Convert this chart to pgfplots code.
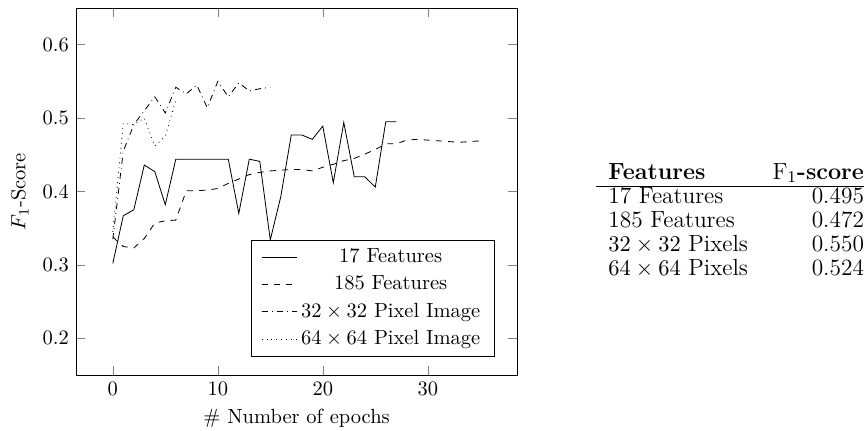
\documentclass[border=0pt]{standalone}
\usepackage{pgfplots}
\pgfplotsset{compat=1.18}
\begin{document}
\begin{tikzpicture}
\path[use as bounding box] (-37.1pt,-27.3pt) rectangle (386.3pt,182.9pt);
\begin{axis}[
  at={(0pt,0pt)}, anchor=south west,
  scale only axis,
  width=215.1pt, height=179pt,
  xmin=-3.5, xmax=38.5,
  ymin=0.15, ymax=0.65,
  xtick={0,10,20,30},
  ytick={0.2,0.3,0.4,0.5,0.6},
  xlabel={\# Number of epochs},
  ylabel={$F_1$-Score},
  legend style={at={(0.95,0.05)}, anchor=south east, inner xsep=5pt, row sep=1pt},
  legend cell align=center,
]
\addplot[black, solid] coordinates {
(0,0.302) (1,0.367) (2,0.375) (3,0.436) (4,0.427) (5,0.382) (6,0.444) (7,0.444)
(8,0.444) (9,0.444) (10,0.444) (11,0.444) (12,0.370) (13,0.444) (14,0.441) (15,0.334)
(16,0.393) (17,0.477) (18,0.477) (19,0.471) (20,0.489) (21,0.412) (22,0.494) (23,0.420)
(24,0.420) (25,0.406) (26,0.495) (27,0.495)};
\addlegendentry{17 Features}
\addplot[black, dashed] coordinates {
(0,0.338) (1,0.325) (2,0.323) (3,0.336) (4,0.357) (5,0.360) (6,0.361) (7,0.401)
(8,0.401) (9,0.402) (10,0.404) (11,0.411) (12,0.417) (13,0.423) (14,0.426) (15,0.428)
(16,0.429) (17,0.430) (18,0.430) (19,0.428) (20,0.433) (21,0.437) (22,0.442) (23,0.445)
(24,0.451) (25,0.457) (26,0.465) (27,0.465) (28,0.470) (29,0.471) (30,0.470) (31,0.469)
(32,0.468) (33,0.467) (34,0.468) (35,0.469)};
\addlegendentry{185 Features}
\addplot[black, dash dot] coordinates {
(0,0.335) (1,0.455) (2,0.491) (3,0.510) (4,0.529) (5,0.507) (6,0.542) (7,0.533)
(8,0.545) (9,0.514) (10,0.550) (11,0.529) (12,0.548) (13,0.537) (14,0.540) (15,0.542)};
\addlegendentry{$32\times32$ Pixel Image}
\addplot[black, dotted] coordinates {
(0,0.345) (1,0.493) (2,0.491) (3,0.500) (4,0.462) (5,0.475) (6,0.524)};
\addlegendentry{$64\times64$ Pixel Image}
\end{axis}
\node[anchor=base west, inner sep=0pt] at (253.5pt,48.3pt) {%
\fontsize{11.4pt}{11.7pt}\selectfont\setlength{\tabcolsep}{6pt}%
\begin{tabular}[b]{lr@{}}
\textbf{Features} & F$_1$\textbf{-score}\\
\hline
17 Features & 0.495\\
185 Features & 0.472\\
$32\times32$ Pixels & 0.550\\
$64\times64$ Pixels & 0.524
\end{tabular}};
\end{tikzpicture}
\end{document}
